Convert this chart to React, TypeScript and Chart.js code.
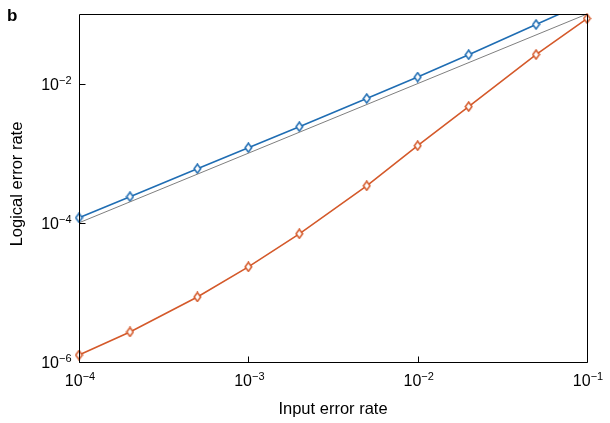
import React, { useEffect, useRef } from "react";
import { Chart, registerables } from "chart.js";

Chart.register(...registerables);

// ---- data ----
const inputErrorRate = [1e-4, 2e-4, 5e-4, 1e-3, 2e-3, 5e-3, 1e-2, 2e-2, 5e-2, 1e-1];
const blueLogicalRate = [1.18e-4, 2.37e-4, 5.98e-4, 1.2e-3, 2.4e-3, 6.1e-3, 1.24e-2, 2.6e-2, 7.06e-2, 1.5e-1];
const orangeLogicalRate = [1.26e-6, 2.7e-6, 8.6e-6, 2.33e-5, 6.95e-5, 3.4e-4, 1.28e-3, 4.67e-3, 2.61e-2, 8.6e-2];
const referenceX = [1e-4, 1e-1];
const referenceY = [1e-4, 1e-1];
const xTickExponents = [-4, -3, -2, -1];
const yTickExponents = [-6, -4, -2];

const BLUE = "#1f6db3";
const ORANGE = "#d4592a";
const GRAY = "#7f7f7f";
const FONT = "'Liberation Sans', Arial, Helvetica, sans-serif";

function makeDiamond(color: string): HTMLCanvasElement {
  const w = 9;
  const h = 11;
  const c = document.createElement("canvas");
  c.width = w;
  c.height = h;
  const ctx = c.getContext("2d")!;
  ctx.beginPath();
  ctx.moveTo(w / 2, 1);
  ctx.lineTo(w - 1.2, h / 2);
  ctx.lineTo(w / 2, h - 1);
  ctx.lineTo(1.2, h / 2);
  ctx.closePath();
  ctx.fillStyle = "#ffffff";
  ctx.fill();
  ctx.lineWidth = 1.5;
  ctx.strokeStyle = color;
  ctx.stroke();
  return c;
}

function drawPow(
  ctx: CanvasRenderingContext2D,
  x: number,
  y: number,
  exp: number,
  align: "center" | "right"
) {
  const base = "10";
  const sup = (exp < 0 ? "\u2212" : "") + String(Math.abs(exp));
  ctx.font = `16px ${FONT}`;
  const wb = ctx.measureText(base).width;
  ctx.font = `11px ${FONT}`;
  const ws = ctx.measureText(sup).width;
  const total = wb + ws;
  const start = align === "center" ? x - total / 2 : x - total;
  ctx.textAlign = "left";
  ctx.textBaseline = "alphabetic";
  ctx.fillStyle = "#000";
  ctx.font = `16px ${FONT}`;
  ctx.fillText(base, start, y);
  ctx.font = `11px ${FONT}`;
  ctx.fillText(sup, start + wb, y - 6);
}

const framePlugin = {
  id: "frame",
  afterDraw(chart: any) {
    const { ctx, chartArea } = chart;
    const xs = chart.scales.x;
    const ys = chart.scales.y;
    const L = Math.round(chartArea.left) + 0.5;
    const R = Math.round(chartArea.right) + 0.5;
    const T = Math.round(chartArea.top) + 0.5;
    const B = Math.round(chartArea.bottom) + 0.5;
    ctx.save();
    ctx.strokeStyle = "#000";
    ctx.lineWidth = 1;
    ctx.beginPath();
    ctx.rect(L, T, R - L, B - T);
    ctx.stroke();
    // inward ticks
    ctx.beginPath();
    xTickExponents.forEach((e) => {
      const px = Math.round(xs.getPixelForValue(Math.pow(10, e))) + 0.5;
      ctx.moveTo(px, B);
      ctx.lineTo(px, B - 6);
    });
    yTickExponents.forEach((e) => {
      const py = Math.round(ys.getPixelForValue(Math.pow(10, e))) + 0.5;
      ctx.moveTo(L, py);
      ctx.lineTo(L + 6, py);
    });
    ctx.stroke();
    // tick labels
    xTickExponents.forEach((e) => {
      const px = xs.getPixelForValue(Math.pow(10, e));
      drawPow(ctx, px + 1, B + 23, e, "center");
    });
    yTickExponents.forEach((e) => {
      const py = ys.getPixelForValue(Math.pow(10, e));
      drawPow(ctx, L - 8, py + 6, e, "right");
    });
    // axis titles
    ctx.fillStyle = "#000";
    ctx.font = `16.5px ${FONT}`;
    ctx.textAlign = "center";
    ctx.textBaseline = "middle";
    ctx.fillText("Input error rate", (chartArea.left + chartArea.right) / 2, 409);
    ctx.save();
    ctx.translate(17, (chartArea.top + chartArea.bottom) / 2 - 4);
    ctx.rotate(-Math.PI / 2);
    ctx.fillText("Logical error rate", 0, 0);
    ctx.restore();
    // panel letter
    ctx.font = `bold 17px ${FONT}`;
    ctx.textAlign = "left";
    ctx.textBaseline = "alphabetic";
    ctx.fillText("b", 7, 21);
    ctx.restore();
  },
};

export default function App() {
  const ref = useRef<HTMLCanvasElement | null>(null);

  useEffect(() => {
    document.body.style.margin = "0";
    const canvas = ref.current!;
    const blueMarker = makeDiamond(BLUE);
    const orangeMarker = makeDiamond(ORANGE);
    const chart = new Chart(canvas, {
      type: "line",
      data: {
        datasets: [
          {
            label: "reference",
            data: referenceX.map((x, i) => ({ x, y: referenceY[i] })),
            borderColor: GRAY,
            borderWidth: 1,
            pointRadius: 0,
            pointHoverRadius: 0,
            fill: false,
          },
          {
            label: "blue",
            data: inputErrorRate.map((x, i) => ({ x, y: blueLogicalRate[i] })),
            borderColor: BLUE,
            borderWidth: 1.6,
            pointStyle: blueMarker as any,
            pointRadius: 4,
            fill: false,
            clip: { left: 10, top: 0, right: 0, bottom: 10 } as any,
          },
          {
            label: "orange",
            data: inputErrorRate.map((x, i) => ({ x, y: orangeLogicalRate[i] })),
            borderColor: ORANGE,
            borderWidth: 1.6,
            pointStyle: orangeMarker as any,
            pointRadius: 4,
            fill: false,
            clip: false as any,
          },
        ],
      },
      options: {
        animation: false,
        responsive: true,
        maintainAspectRatio: false,
        devicePixelRatio: 1,
        layout: { padding: { top: 14, right: 23, left: 0, bottom: 0 } },
        plugins: {
          legend: { display: false },
          tooltip: { enabled: false },
        },
        events: [],
        scales: {
          x: {
            type: "logarithmic",
            min: 1e-4,
            max: 1e-1,
            grid: { display: false },
            border: { display: false },
            ticks: { display: false },
            afterFit: (s: any) => {
              s.height = 61;
            },
          },
          y: {
            type: "logarithmic",
            min: 1e-6,
            max: 1e-1,
            grid: { display: false },
            border: { display: false },
            ticks: { display: false },
            afterFit: (s: any) => {
              s.width = 79;
            },
          },
        },
      },
      plugins: [framePlugin],
    });
    return () => chart.destroy();
  }, []);

  return (
    <div style={{ position: "fixed", left: 0, top: 0, width: 610, height: 423, background: "#fff" }}>
      <canvas ref={ref} />
    </div>
  );
}
